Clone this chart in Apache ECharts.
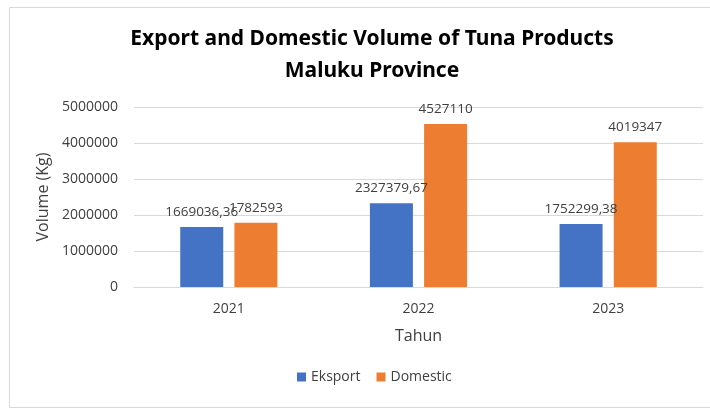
<!DOCTYPE html>
<html><head><meta charset="utf-8">
<script src="https://cdn.jsdelivr.net/npm/echarts@6/dist/echarts.min.js"></script>
<style>html,body{margin:0;padding:0;background:#fff}#c{width:710px;height:409px}</style>
</head><body><div id="c"></div>
<script>
const categories = ['2021', '2022', '2023'];
const eksport = [1669036.36, 2327379.67, 1752299.38];
const domestic = [1782593, 4527110, 4019347];
const yTicks = [0, 1000000, 2000000, 3000000, 4000000, 5000000];
const titleLines = ['Export and Domestic Volume of Tuna Products', 'Maluku Province'];

const font = '"Open Sans", "Noto Sans", sans-serif';
const fmt = v => String(v).replace('.', ',');
const chart = echarts.init(document.getElementById('c'));
chart.setOption({
  animation: false,
  backgroundColor: '#fff',
  graphic: [{
    type: 'rect', shape: {x: 9.5, y: 7.5, width: 710, height: 400},
    style: {fill: 'none', stroke: '#d9d9d9', lineWidth: 1}, silent: true
  }],
  title: {
    text: titleLines.join('\n'), left: 367, top: 18, textAlign: 'center',
    textStyle: {fontFamily: '"Noto Sans", sans-serif', fontWeight: 'bold', fontSize: 21, lineHeight: 32, color: '#000'}
  },
  legend: {
    data: ['Eksport', 'Domestic'], top: 365, left: 292, itemWidth: 9, itemHeight: 9, itemGap: 16,
    icon: 'rect', textStyle: {fontFamily: font, fontSize: 14, color: '#404040'}
  },
  grid: {left: 134, right: 7, top: 107, bottom: 122},
  xAxis: {
    type: 'category', data: categories,
    name: 'Tahun', nameLocation: 'middle', nameGap: 41,
    nameTextStyle: {fontFamily: font, fontSize: 16, color: '#404040'},
    axisLine: {lineStyle: {color: '#d9d9d9'}}, axisTick: {show: false},
    axisLabel: {fontFamily: font, fontSize: 14, color: '#404040', margin: 15}
  },
  yAxis: {
    type: 'value', min: 0, max: 5000000, interval: 1000000,
    name: 'Volume (Kg)', nameLocation: 'middle', nameGap: 80, nameRotate: 90,
    nameTextStyle: {fontFamily: font, fontSize: 16, color: '#404040'},
    axisLine: {show: false}, axisTick: {show: false},
    splitLine: {lineStyle: {color: '#d9d9d9'}},
    axisLabel: {fontFamily: font, fontSize: 14, color: '#404040', margin: 16,
      formatter: v => yTicks.includes(v) ? String(v) : ''}
  },
  series: [
    {name: 'Eksport', type: 'bar', data: eksport, barWidth: 43, barGap: '26%',
     itemStyle: {color: '#4472c4'},
     label: {show: true, position: 'top', distance: 8, fontFamily: font, fontSize: 13.5, color: '#404040',
       formatter: p => fmt(p.value)}},
    {name: 'Domestic', type: 'bar', data: domestic, barWidth: 43,
     itemStyle: {color: '#ed7d31'},
     label: {show: true, position: 'top', distance: 8, fontFamily: font, fontSize: 13.5, color: '#404040',
       formatter: p => fmt(p.value)}}
  ]
});
</script></body></html>
